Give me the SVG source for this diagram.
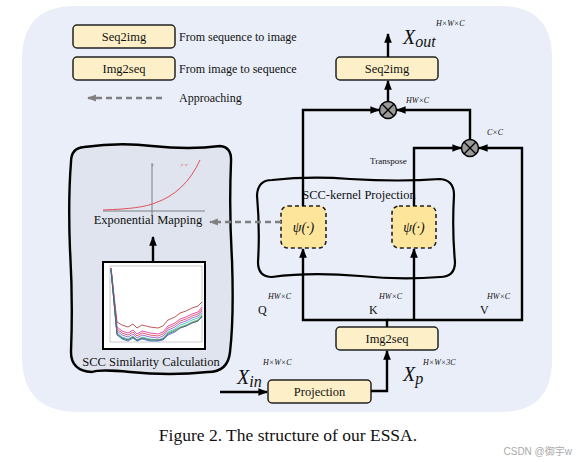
<svg xmlns="http://www.w3.org/2000/svg" width="576" height="462" viewBox="0 0 576 462">
<defs>
<marker id="ah" viewBox="0 0 10 10" refX="9" refY="5" markerWidth="4" markerHeight="4" orient="auto-start-reverse" markerUnits="strokeWidth"><path d="M0 1 L10 5 L0 9 Z" fill="#000"/></marker>
<marker id="ahg" viewBox="0 0 10 10" refX="9" refY="5" markerWidth="3.4" markerHeight="3.4" orient="auto-start-reverse" markerUnits="strokeWidth"><path d="M0 1 L10 5 L0 9 Z" fill="#7f7f7f"/></marker>
</defs>
<style>
.t{font-family:"Liberation Serif","Times New Roman",serif;fill:#111}
.m{font-family:"Liberation Serif","Times New Roman",serif;font-style:italic;fill:#111}
.box{fill:#fdf0c8;stroke:#222;stroke-width:1.5}
.psi{fill:#fde59c;stroke:#222;stroke-width:1.6;stroke-dasharray:4 3}
.c{fill:none;stroke:#000;stroke-width:2.4}
.w{fill:none;stroke:#000;stroke-width:2.2}
.dash{fill:none;stroke:#7f7f7f;stroke-width:2.6;stroke-dasharray:6 4}
.mul{fill:#9a9a9a;stroke:#000;stroke-width:1.5}
</style>
<rect x="0" y="0" width="576" height="462" fill="#fff"/>
<path d="M75 6 H500 Q552 6 552 58 V360 Q552 412 500 412 H78 Q22 412 22 356 V60 Q22 6 75 6 Z" fill="#e9eef8"/>

<g id="legend">
<rect class="box" x="73" y="25" width="102" height="23" rx="4"/>
<text class="t" x="124" y="41" font-size="12.5" text-anchor="middle">Seq2img</text>
<text class="t" x="179" y="41" font-size="12">From sequence to image</text>
<rect class="box" x="73" y="57" width="102" height="23" rx="4"/>
<text class="t" x="124" y="73" font-size="12.5" text-anchor="middle">Img2seq</text>
<text class="t" x="179" y="73" font-size="12">From image to sequence</text>
<path class="dash" d="M162 98 H88" marker-end="url(#ahg)"/>
<text class="t" x="179" y="102" font-size="12">Approaching</text>
</g>

<g id="left-panel">
<path d="M84 147 Q120 142 152 146 Q190 150 220 146 Q232 147 231 162 Q229 210 232 260 Q234 318 230 352 Q228 372 208 372 Q170 376 130 372 Q100 369 92 372 Q71 371 71 352 Q73 300 70 250 Q68 200 71 162 Q71 148 84 147 Z" fill="#dfe4ee" stroke="#000" stroke-width="2.4"/>
</g>

<g id="exp-mapping">
<line x1="152" y1="215" x2="152" y2="163" stroke="#666" stroke-width="0.8"/>
<line x1="103" y1="211" x2="205" y2="211" stroke="#666" stroke-width="0.8"/>
<path d="M103 210 C130 209 145 207 155 203 C175 196 190 182 200 160" fill="none" stroke="#e0505a" stroke-width="1"/>
<text x="152" y="166" font-size="4" fill="#666" font-family="Liberation Serif,serif" font-style="italic"> y</text>
<text x="181" y="166" font-size="4" fill="#e0505a" font-family="Liberation Serif,serif" font-style="italic">y=eˣ</text>
<text class="t" x="148" y="224" font-size="12.5" text-anchor="middle">Exponential Mapping</text>
</g>

<g id="scc-similarity">
<rect x="103" y="262" width="102" height="87" fill="#fff" stroke="#000" stroke-width="2"/>
<rect x="110" y="266" width="92" height="76" fill="none" stroke="#999" stroke-width="0.5"/>
<g fill="none" stroke-width="0.8">
<polyline stroke="#b03030" points="111,268 117,322 122,325 128,327 133,324 137,328 142,325 150,327 158,328 163,326 168,320 175,317 180,313 186,311 192,308 198,306 202,302"/>
<polyline stroke="#e020a0" points="111,268 117,327 122,331 128,333 133,330 137,334 142,331 150,333 158,334 163,332 168,326 175,323 180,319 186,317 192,314 198,312 202,307"/>
<polyline stroke="#d04040" points="111,268 117,329 122,333 128,335 133,332 137,336 142,333 150,335 158,336 163,334 168,328 175,325 180,321 186,319 192,316 198,314 202,309"/>
<polyline stroke="#a040d0" points="111,269 117,331 122,335 128,337 133,334 137,338 142,335 150,337 158,338 163,336 168,330 175,327 180,323 186,321 192,318 198,316 202,311"/>
<polyline stroke="#20c0c0" points="111,269 117,333 122,337 128,339 133,336 137,340 142,337 150,339 158,340 163,338 168,332 175,329 180,325 186,323 192,320 198,318 202,313"/>
<polyline stroke="#40b040" points="111,269 117,334 122,338 128,340 133,337 137,341 142,338 150,340 158,340 163,339 168,333 175,330 180,327 186,325 192,322 198,320 202,315"/>
<polyline stroke="#3060e0" points="111,270 117,335 122,339 128,341 133,338 137,341 142,339 150,341 158,341 163,340 168,335 175,332 180,328 186,326 192,323 198,321 202,317"/>
<polyline stroke="#606060" points="111,270 117,334 122,338 128,340 133,337 137,340 142,338 150,340 158,340 163,339 168,334 175,331 180,328 186,326 192,323 198,321 202,316"/>
</g>
<text class="t" x="151" y="366" font-size="12.5" text-anchor="middle">SCC Similarity Calculation</text>
</g>

<g id="scc-kernel">
<path class="w" d="M272 180 Q310 176 350 179 Q400 182 440 179 Q454 180 454 195 Q452 230 455 262 Q455 277 440 277 Q400 280 360 276 Q310 272 272 277 Q258 277 258 262 Q260 230 257 195 Q258 180 272 180 Z"/>
<text class="t" x="359" y="199" font-size="12.5" text-anchor="middle">SCC-kernel Projection</text>
</g>

<g id="psi-q">
<rect class="psi" x="281" y="206" width="45" height="42" rx="7"/>
<text class="m" x="303.5" y="232" font-size="14" text-anchor="middle">ψ(·)</text>
</g>
<g id="psi-k">
<rect class="psi" x="392" y="206" width="44" height="42" rx="7"/>
<text class="m" x="414" y="232" font-size="14" text-anchor="middle">ψ(·)</text>
</g>

<g id="seq2img">
<rect class="box" x="336" y="57" width="102" height="23" rx="4"/>
<text class="t" x="387" y="73" font-size="12.5" text-anchor="middle">Seq2img</text>
</g>
<g id="img2seq">
<rect class="box" x="336" y="327" width="102" height="23" rx="4"/>
<text class="t" x="387" y="343" font-size="12.5" text-anchor="middle">Img2seq</text>
</g>
<g id="projection">
<rect class="box" x="268" y="380" width="103" height="23" rx="4"/>
<text class="t" x="319.5" y="396" font-size="12.5" text-anchor="middle">Projection</text>
</g>

<g id="mul-top">
<circle class="mul" cx="388" cy="110" r="8.5"/>
<path d="M382 104 L394 116 M394 104 L382 116" stroke="#000" stroke-width="1.4"/>
</g>
<g id="mul-right">
<circle class="mul" cx="470" cy="148" r="8.5"/>
<path d="M464 142 L476 154 M476 142 L464 154" stroke="#000" stroke-width="1.4"/>
</g>

<g id="connectors">
<path class="c" d="M388 57 V34" marker-end="url(#ah)"/>
<path class="c" d="M388 101.5 V81" marker-end="url(#ah)"/>
<path class="c" d="M303 206 V110 H379" marker-end="url(#ah)"/>
<path class="c" d="M470 139.5 V110 H397" marker-end="url(#ah)"/>
<path class="c" d="M414 206 V148 H461" marker-end="url(#ah)"/>
<path class="c" d="M387 320 H522 V148 H479" marker-end="url(#ah)"/>
<path class="c" d="M387 327 V320 H303 V249" marker-end="url(#ah)"/>
<path class="c" d="M414 320 V249" marker-end="url(#ah)"/>
<path class="c" d="M371 391 H387 V351" marker-end="url(#ah)"/>
<path class="c" d="M220 392 H267" marker-end="url(#ah)"/>
<path class="c" d="M153 262 V237" marker-end="url(#ah)"/>
<path class="dash" d="M281 222 H210" marker-end="url(#ahg)"/>
</g>

<g id="labels">
<text class="m" x="403" y="44" font-size="20">X<tspan font-size="16" dy="3">out</tspan></text>
<text class="m" x="436" y="26" font-size="8">H×W×C</text>
<text class="m" x="406" y="103" font-size="8">HW×C</text>
<text class="m" x="487" y="135" font-size="8">C×C</text>
<text class="t" x="370" y="164" font-size="9">Transpose</text>
<text class="t" x="258" y="314" font-size="12">Q</text>
<text class="m" x="268" y="299" font-size="8">HW×C</text>
<text class="t" x="369" y="314" font-size="12">K</text>
<text class="m" x="379" y="299" font-size="8">HW×C</text>
<text class="t" x="480" y="314" font-size="12">V</text>
<text class="m" x="487" y="299" font-size="8">HW×C</text>
<text class="m" x="237" y="384" font-size="20">X<tspan font-size="16" dy="3">in</tspan></text>
<text class="m" x="263" y="365" font-size="8">H×W×C</text>
<text class="m" x="403" y="381" font-size="20">X<tspan font-size="16" dy="3">p</tspan></text>
<text class="m" x="423" y="365" font-size="8">H×W×3C</text>
</g>

<text class="t" x="288" y="441" font-size="17.5" text-anchor="middle">Figure 2. The structure of our ESSA.</text>
<text x="572" y="455" font-size="10" fill="#aaa" text-anchor="end" font-family="Liberation Sans,'Noto Sans CJK SC',sans-serif">CSDN @御宇w</text>
</svg>
